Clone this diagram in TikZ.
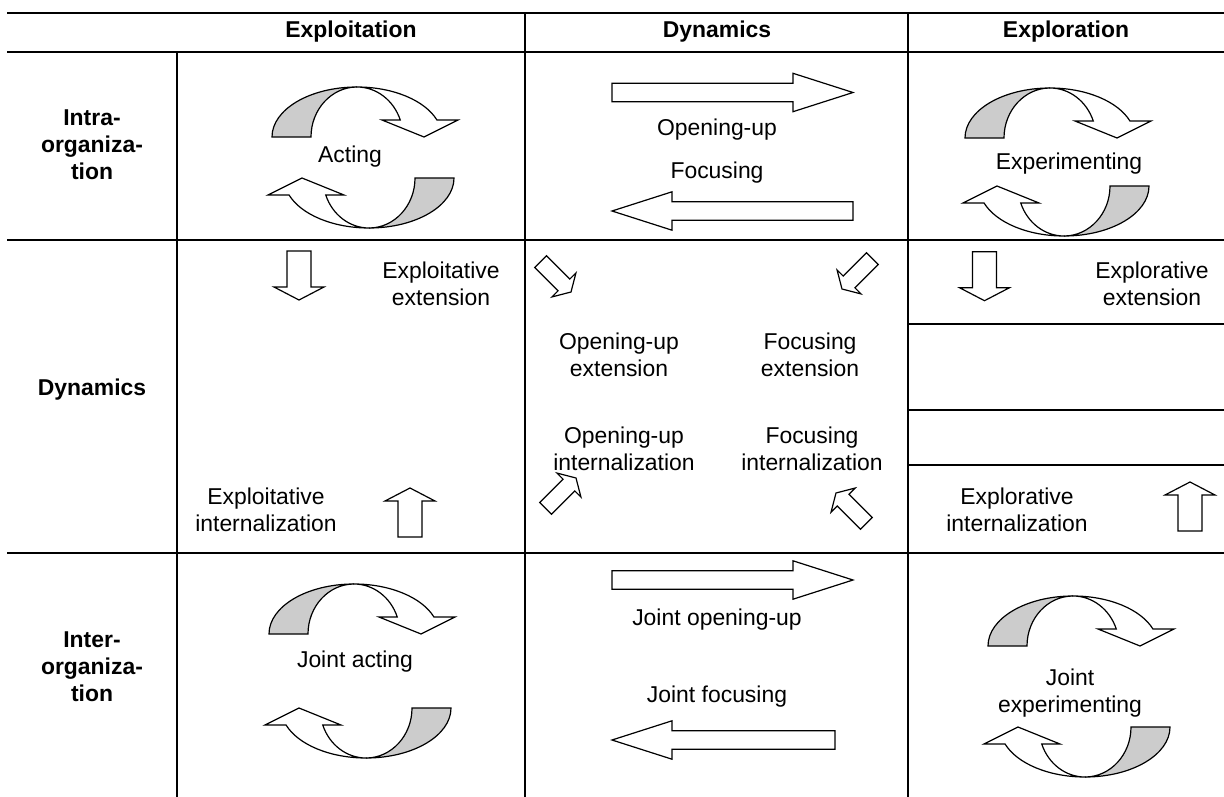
\documentclass[tikz,border=0pt]{standalone}
\usepackage{fontspec}
\setmainfont{Liberation Sans}
\definecolor{shade}{RGB}{204,204,204}
\tikzset{
  hrule/.style={line width=2.2bp},
  vrule/.style={line width=2bp},
  blk/.style={draw=black, line width=1.2bp, fill=white, line join=miter},
  txt/.style={inner sep=0pt, align=center, font=\fontsize{23}{27}\selectfont},
  hdr/.style={inner sep=0pt, align=center, font=\fontsize{23}{27}\selectfont\bfseries},
  pics/cyc/.style={code={
    \path[blk, fill=shade] (-85,0) arc[start angle=180,end angle=90,x radius=85,y radius=50]
      arc[start angle=90,end angle=180,x radius=46,y radius=50] -- cycle;
    \path[blk] (0,50) arc[start angle=90,end angle=19.88,x radius=85,y radius=50]
      -- (101,17) -- (67,0) -- (25,17) -- (43.26,17)
      arc[start angle=19.88,end angle=90,x radius=46,y radius=50] -- cycle;
  }},
  pics/hblock/.style={code={
    \path[blk] (0,0) -- (-60,19.2) -- (-60,9.2) -- (-241,9.2) -- (-241,-9.2) -- (-60,-9.2) -- (-60,-19.2) -- cycle;
  }},
  pics/hblockshort/.style={code={
    \path[blk] (0,0) -- (-60,19.2) -- (-60,9.2) -- (-223,9.2) -- (-223,-9.2) -- (-60,-9.2) -- (-60,-19.2) -- cycle;
  }},
  pics/vblock/.style={code={
    \path[blk] (0,0) -- (25,13) -- (12,13) -- (12,49) -- (-12,49) -- (-12,13) -- (-25,13) -- cycle;
  }},
  pics/dblock/.style={code={
    \path[blk] (0,0) -- (17,10) -- (8.3,10) -- (8.3,43) -- (-8.3,43) -- (-8.3,10) -- (-17,10) -- cycle;
  }},
}
\begin{document}
\begin{tikzpicture}[x=1bp,y=1bp]
\useasboundingbox (0,0) rectangle (1224,-797);
% table rules
\draw[hrule] (7,-13) -- (1224,-13);
\draw[hrule] (7,-52) -- (1224,-52);
\draw[hrule] (7,-240) -- (1224,-240);
\draw[hrule] (7,-553) -- (1224,-553);
\draw[vrule] (908,-324) -- (1224,-324);
\draw[vrule] (908,-410) -- (1224,-410);
\draw[vrule] (908,-465) -- (1224,-465);
\draw[vrule] (177,-52) -- (177,-797);
\draw[vrule] (525,-13) -- (525,-797);
\draw[vrule] (908,-13) -- (908,-797);
% headers
\node[hdr] (h1) at (351,-32) {Exploitation};
\node[hdr] (h2) at (717,-32) {Dynamics};
\node[hdr] (h3) at (1066,-32) {Exploration};
\node[hdr] (r1) at (92,-145) {Intra-\\organiza-\\tion};
\node[hdr] (r2) at (92,-390) {Dynamics};
\node[hdr] (r3) at (92,-667) {Inter-\\organiza-\\tion};
% intra row
\pic at (357,-137) {cyc};
\pic[rotate=180] at (369,-178) {cyc};
\node[txt] (acting) at (350,-157) {Acting};
\pic at (853,-92.5) {hblock};
\pic[rotate=180] at (612,-211) {hblock};
\node[txt] (openup) at (717,-130) {Opening-up};
\node[txt] (focus) at (717,-173) {Focusing};
\pic at (1050,-138) {cyc};
\pic[rotate=180] at (1064,-186) {cyc};
\node[txt] (exper) at (1069,-164) {Experimenting};
% dynamics row
\pic at (299,-300) {vblock};
\node[txt] (exploitext) at (441,-284) {Exploitative\\extension};
\pic[rotate=180] at (410,-488) {vblock};
\node[txt] (exploitint) at (266,-510) {Exploitative\\internalization};
\pic[rotate=45] at (571,-292) {dblock};
\pic[rotate=-45] at (842,-289) {dblock};
\pic[rotate=135] at (576,-478) {dblock};
\pic[rotate=-135] at (836,-493) {dblock};
\node[txt] (oext) at (619,-355) {Opening-up\\extension};
\node[txt] (fext) at (810,-355) {Focusing\\extension};
\node[txt] (oint) at (624,-449) {Opening-up\\internalization};
\node[txt] (fint) at (812,-449) {Focusing\\internalization};
\pic at (984.5,-300.7) {vblock};
\node[txt] (explorext) at (1152,-284) {Explorative\\extension};
\pic[rotate=180] at (1190,-482) {vblock};
\node[txt] (explorint) at (1017,-510) {Explorative\\internalization};
% inter row
\pic at (354,-634) {cyc};
\pic[rotate=180] at (366,-708) {cyc};
\node[txt] (jacting) at (355,-662) {Joint acting};
\pic at (853,-580) {hblock};
\pic[rotate=180] at (612,-740) {hblockshort};
\node[txt] (jopen) at (717,-620) {Joint opening-up};
\node[txt] (jfocus) at (717,-697) {Joint focusing};
\pic at (1073,-646) {cyc};
\pic[rotate=180] at (1085,-727) {cyc};
\node[txt] (jexper) at (1070,-693) {Joint\\experimenting};
\end{tikzpicture}
\end{document}
